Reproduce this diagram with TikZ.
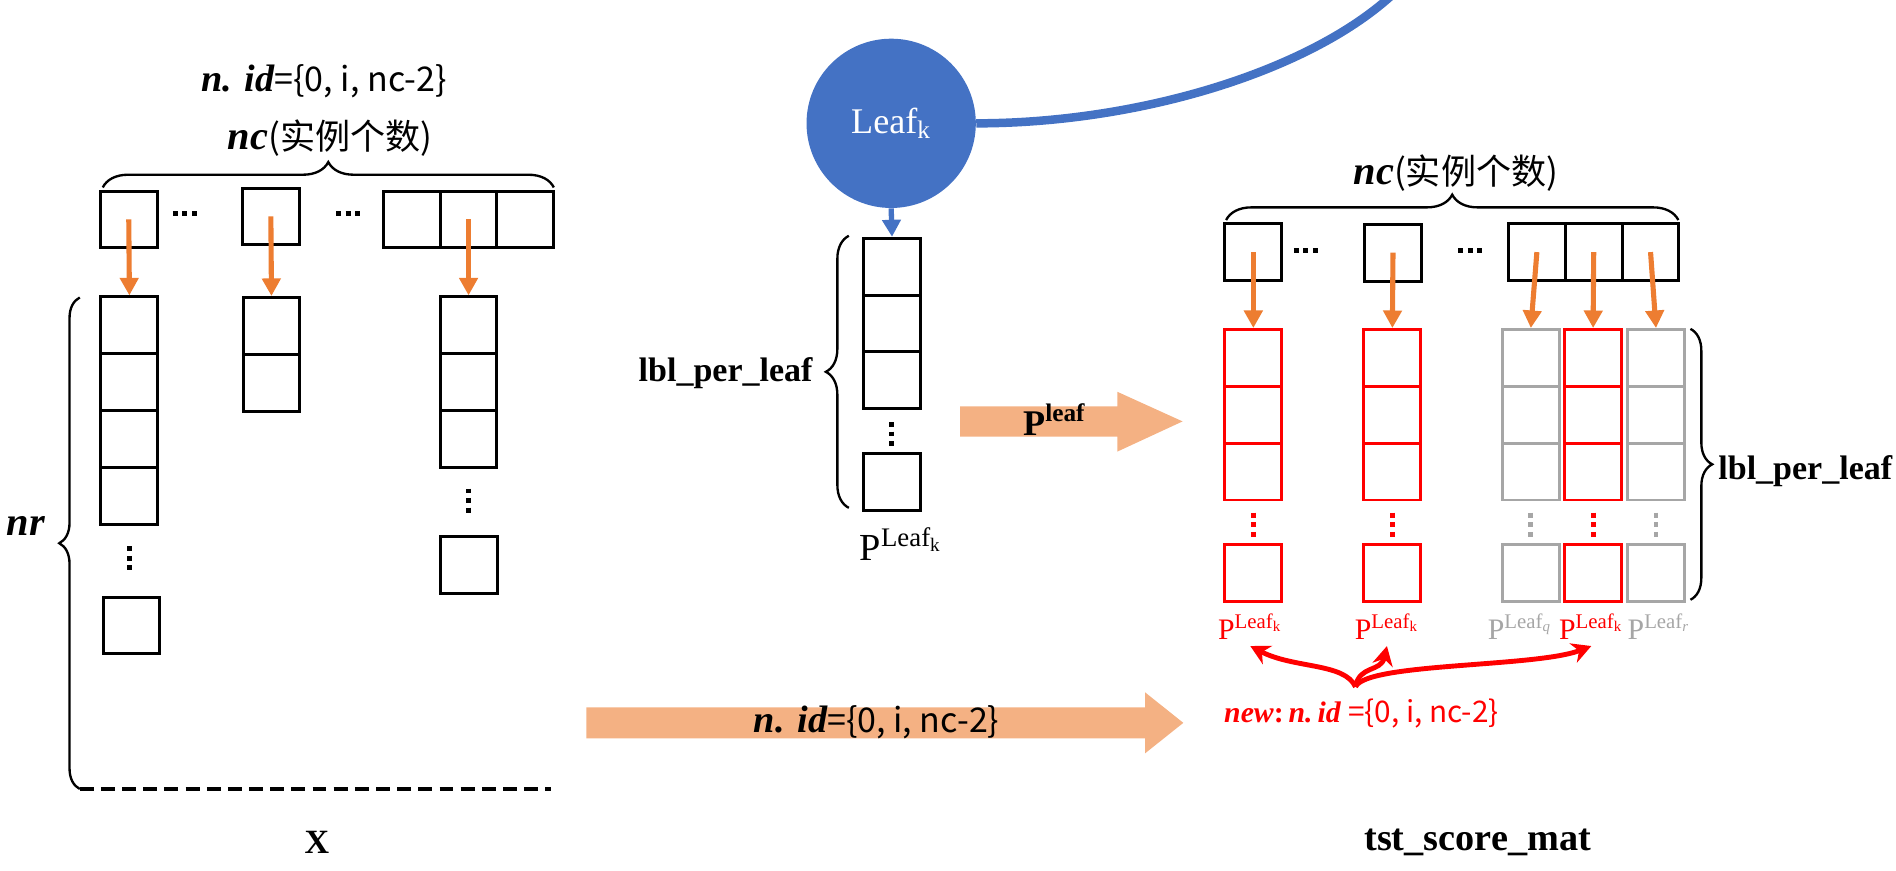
\documentclass[tikz,border=0pt]{standalone}
\usepackage{fontspec}
\setmainfont{Liberation Serif}
\newfontfamily\cjk{Noto Sans CJK SC}
\usetikzlibrary{arrows.meta,decorations.pathreplacing}

\definecolor{leafblue}{HTML}{4472C4}
\definecolor{idorange}{HTML}{ED7D31}
\definecolor{flowor}{HTML}{F4B183}
\definecolor{hitred}{HTML}{FF0000}
\definecolor{missgray}{HTML}{A6A6A6}

\newcommand{\idset}{{\fontsize{18}{20}\selectfont\bfseries\itshape n.\,\,id}{\cjk =\{0, i, nc-2\}}}
\newcommand{\ncnum}{{\fontsize{19}{21}\selectfont\bfseries\itshape nc}{\cjk (实例个数)}}

\tikzset{
  cell/.style={draw, line width=1.4pt, minimum width=9.4mm, minimum height=9.4mm, inner sep=0pt},
  rcell/.style={cell, draw=hitred},
  gcell/.style={cell, draw=missgray},
  pick/.style={idorange, line width=2.4pt, -{Triangle[length=2.9mm,width=3mm]}},
  brc/.style={decorate, decoration={brace, amplitude=#1}, line width=1.1pt},
  dts/.style={line width=2.3pt, dash pattern=on 2.3pt off 2.2pt},
  lbl/.style={font=\fontsize{16}{19}\selectfont\bfseries, inner sep=1pt},
  plbl/.style={font=\fontsize{14}{16}\selectfont, inner sep=3pt},
  hit/.style={hitred, line width=2.3pt, -{Stealth[length=3.2mm,width=3.4mm]}},
}

\begin{document}
\begin{tikzpicture}[x=0.2mm, y=-0.2mm]

    \useasboundingbox (0,0) rectangle (1568,720);

    % X
    \node[font=\fontsize{16}{19}\selectfont] (xid) at (268,67) {\idset};
    \node[font=\fontsize{16.5}{19}\selectfont] (xnc) at (273,114) {\ncnum};
    \draw[brc=4.2mm] (85,155) -- (458,155);

    \node[cell] (xt1) at (106.5,181.5) {};
    \node[cell] (xt2) at (224,179) {};
    \foreach \i/\x in {1/340.5,2/387.5,3/434.5} \node[cell] (xt3\i) at (\x,181.5) {};
    \draw[dts] (143,176.4) -- ++(20,0);
    \draw[dts] (278,176.4) -- ++(20,0);

    \foreach \i in {1,...,4} \node[cell] (xa\i) at (107,{222+47*\i}) {};
    \draw[dts] (107,451.7) -- ++(0,20);
    \node[cell] (xan) at (108.8,517.3) {};
    \foreach \i in {1,2} \node[cell] (xb\i) at (224.5,{222.5+47*\i}) {};
    \foreach \i in {1,2,3} \node[cell] (xc\i) at (387.5,{222+47*\i}) {};
    \draw[dts] (387.5,404) -- ++(0,20);
    \node[cell] (xcn) at (388,467) {};

    \draw[pick] (xt1.center) -- (xa1.north);
    \draw[pick] (xt2.center) -- (xb1.north);
    \draw[pick] (xt32.center) -- (xc1.north);

    \draw[brc=3.4mm] (66,652.5) -- (66,246);
    \draw[line width=1.6pt, dash pattern=on 2.3mm off 1.2mm] (66,652.5) -- (456,652.5);
    \node[font=\fontsize{19}{21}\selectfont\bfseries\itshape] (xnr) at (21.5,435) {nr};
    \node[lbl] (xname) at (262,697) {X};

    % Leaf_k
    \node[circle, fill=leafblue, minimum size=28mm, inner sep=0pt, text=white, font=\fontsize{17}{20}\selectfont] (leaf) at (737,102) {$\mathrm{Leaf_k}$};
    \draw[leafblue, line width=4pt] (leaf.east) .. controls (940,102) and (1080,60) .. (1150,-3);

    \foreach \i in {1,2,3} \node[cell] (lc\i) at (737.7,{173.5+47*\i}) {};
    \draw[dts] (737.5,349) -- ++(0,20);
    \node[cell] (lcn) at (737.7,398.5) {};
    \draw[leafblue, line width=2.5pt, -{Triangle[length=2.8mm,width=3mm]}] (leaf.south) -- (lc1.north);

    \draw[brc=3.8mm] (702,420) -- (702,195);
    \node[lbl, anchor=east] (lplbl) at (674,309) {lbl\_per\_leaf};
    \node[font=\fontsize{18}{21}\selectfont] (lp) at (745,450) {$\mathrm{P^{Leaf_k}}$};

    \fill[flowor] (794,336) -- (924,336) -- (924,324) -- (978,348.5) -- (924,373.5) -- (924,361) -- (794,361) -- cycle;
    \node[font=\fontsize{17}{20}\selectfont\bfseries] (pleaf) at (872,347) {P\textsuperscript{leaf}};

    \fill[flowor] (485,585) -- (947,585) -- (947,572.6) -- (978.6,597.8) -- (947,623) -- (947,610.7) -- (485,610.7) -- cycle;
    \node[font=\fontsize{16}{19}\selectfont] (flowid) at (725,597) {\idset};

    % tst_score_mat
    \node[font=\fontsize{16.5}{19}\selectfont] (snc) at (1204,143) {\ncnum};
    \draw[brc=4.2mm] (1014,182) -- (1388,182);

    \node[cell] (sb1) at (1036.5,208.5) {};
    \node[cell] (sb2) at (1152,209) {};
    \foreach \i/\x in {1/1271,2/1318,3/1365} \node[cell] (sb3\i) at (\x,208.5) {};
    \draw[dts] (1070,207) -- ++(20,0);
    \draw[dts] (1206,207) -- ++(20,0);

    \foreach \c/\x/\s/\k in {r1/1036.5/rcell/hitred, r2/1151.5/rcell/hitred, g1/1266/gcell/missgray, r3/1317.5/rcell/hitred, g2/1369.5/gcell/missgray} {
        \foreach \i in {1,2,3} \node[\s] (\c-\i) at (\x,{249+47*\i}) {};
        \draw[dts, \k] (\x,424) -- ++(0,20);
        \node[\s] (\c-n) at (\x,474) {};
    }

    \draw[pick] (sb1.center) -- (r1-1.north);
    \draw[pick] (sb2.center) -- (r2-1.north);
    \draw[pick] (sb31.center) -- (g1-1.north);
    \draw[pick] (sb32.center) -- (r3-1.north);
    \draw[pick] (sb33.center) -- (g2-1.north);

    \draw[brc=3.6mm] (1398,272) -- (1398,496);
    \node[lbl, anchor=west] (rlbl) at (1419,390) {lbl\_per\_leaf};

    \node[plbl, text=hitred] (pk1) at (1034,518) {$\mathrm{P^{Leaf_k}}$};
    \node[plbl, text=hitred] (pk2) at (1147,518) {$\mathrm{P^{Leaf_k}}$};
    \node[plbl, text=missgray] (pq) at (1257,518) {$\mathrm{P^{Leaf_{\mathit{q}}}}$};
    \node[plbl, text=hitred] (pk3) at (1316,518) {$\mathrm{P^{Leaf_k}}$};
    \node[plbl, text=missgray] (pr) at (1372,518) {$\mathrm{P^{Leaf_{\mathit{r}}}}$};

    \coordinate (root) at (1121,568);
    \draw[hit] (root) .. controls (1112,548) and (1070,553) .. (pk1.south);
    \draw[hit] (root) .. controls (1124,550) and (1142,556) .. (pk2.south);
    \draw[hit] (root) .. controls (1130,548) and (1270,552) .. (pk3.south);

    \node[font=\fontsize{14}{17}\selectfont, text=hitred] (newid) at (1126,590) {{\bfseries\itshape new}{\bfseries:}\,{\bfseries\itshape n.\,id} {\cjk =\{0, i, nc-2\}}};
    \node[lbl, font=\fontsize{18}{21}\selectfont\bfseries] (sname) at (1222,697) {tst\_score\_mat};

\end{tikzpicture}
\end{document}
